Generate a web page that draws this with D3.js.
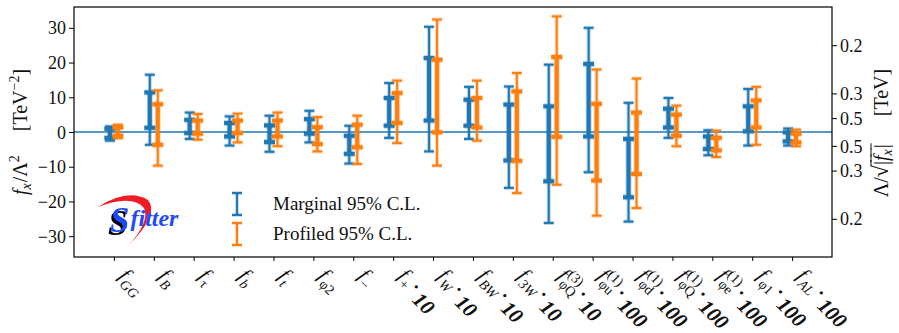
<!DOCTYPE html>
<html><head><meta charset="utf-8">
<script src="https://cdn.jsdelivr.net/npm/d3@7"></script>
<style>body{margin:0;background:#fff}svg text{font-family:"Liberation Serif","DejaVu Serif",serif;fill:#111}</style>
</head><body><svg id="c" width="899" height="333"></svg>
<script>
// ---------- data ----------
const xSub = ["GG","B","τ","b","t","φ2","−","+","W","BW","3W","φQ","φu","φd","φQ","φe","φ1","AL"];
const xSup = ["","","","","","","","","","","","(3)","(1)","(1)","(1)","(1)","",""];
const xFactor = ["","","","","","","","10","10","10","10","10","100","100","100","100","100","100"];

const marg95Lo = [-2.5,-3.7,-2.0,-3.9,-5.7,-3.0,-9.1,-1.7,-5.6,-2.0,-16.1,-26.2,-11.6,-25.8,-1.7,-6.7,-3.9,-3.9];
const marg95Hi = [1.6,16.5,5.6,4.5,4.7,6.1,1.8,14.1,30.3,13.0,13.1,19.4,30.0,8.4,9.8,0.5,12.4,1.0];
const marg68Lo = [-1.7,1.2,-0.3,-1.3,-2.9,-0.5,-6.3,1.8,3.3,1.8,-8.2,-14.2,-1.3,-18.8,1.3,-4.9,0.2,-2.7];
const marg68Hi = [0.9,11.4,3.5,2.6,1.9,3.7,-1.1,9.8,21.3,9.3,7.9,7.4,19.6,-2.0,6.7,-1.3,7.4,-0.1];

const prof95Lo = [-1.8,-9.7,-2.2,-3.0,-4.1,-5.6,-9.2,-3.2,-9.7,-2.5,-17.6,-15.2,-24.1,-21.9,-4.1,-7.2,-3.7,-4.1];
const prof95Hi = [2.1,12.0,5.2,5.3,5.6,4.3,4.7,14.8,32.4,14.8,17.0,33.3,18.0,15.4,7.6,0.4,13.0,0.7];
const prof68Lo = [-1.1,-3.7,-0.5,-0.3,-1.3,-3.5,-4.4,2.6,-0.1,1.3,-8.3,-1.4,-14.0,-12.1,-1.1,-5.3,1.3,-3.0];
const prof68Hi = [1.3,8.0,3.3,3.3,3.3,1.4,2.1,11.2,20.8,9.8,11.7,21.6,8.1,5.6,5.0,-1.7,9.1,-0.5];

const leftTicks = [-30,-20,-10,0,10,20,30];
const rightTickVals = [25, 100/9, 4, -4, -100/9, -25];
const rightTickLabels = ["0.2","0.3","0.5","0.5","0.3","0.2"];
const legendLabels = ["Marginal 95% C.L.","Profiled 95% C.L."];

const BLUE = "#1f77b4", ORANGE = "#ff7f0e";

// ---------- scales ----------
const svg = d3.select('#c');
const L = 74, R = 832, T = 7, B = 257;
const x = d3.scaleLinear().domain([-1,18]).range([L,R]);
const y = d3.scaleLinear().domain([-36,36]).range([B,T]);

const defs = svg.append('defs');
const flt = defs.append('filter').attr('id','shadow').attr('x','-30%').attr('y','-20%').attr('width','160%').attr('height','150%');
flt.append('feDropShadow').attr('dx',-2).attr('dy',3).attr('stdDeviation',0.3).attr('flood-color','#000').attr('flood-opacity',1);

// zero line
svg.append('line').attr('x1',L).attr('x2',R).attr('y1',y(0)).attr('y2',y(0))
  .attr('stroke',BLUE).attr('stroke-width',1.3);

// ---------- error bars ----------
function bar(g, cx, lo, hi, w, capW, color){
  const parts = [[cx,y(lo),cx,y(hi)],[cx-capW/2,y(lo),cx+capW/2,y(lo)],[cx-capW/2,y(hi),cx+capW/2,y(hi)]];
  parts.forEach(p=>{
    g.append('line').attr('x1',p[0]).attr('y1',p[1]).attr('x2',p[2]).attr('y2',p[3])
      .attr('stroke',color).attr('stroke-opacity',0.3).attr('stroke-width',w+2);
  });
  parts.forEach(p=>{
    g.append('line').attr('x1',p[0]).attr('y1',p[1]).attr('x2',p[2]).attr('y2',p[3])
      .attr('stroke',color).attr('stroke-width',w);
  });
}
const gb = svg.append('g');
const off = 0.1;
d3.range(xSub.length).forEach(i=>{
  bar(gb, x(i-off), marg95Lo[i], marg95Hi[i], 2, 10, BLUE);
  bar(gb, x(i-off), marg68Lo[i], marg68Hi[i], 4, 11, BLUE);
});
d3.range(xSub.length).forEach(i=>{
  bar(gb, x(i+off), prof95Lo[i], prof95Hi[i], 2, 10, ORANGE);
  bar(gb, x(i+off), prof68Lo[i], prof68Hi[i], 4, 11, ORANGE);
});

// ---------- frame & axes ----------
svg.append('rect').attr('x',L).attr('y',T).attr('width',R-L).attr('height',B-T)
  .attr('fill','none').attr('stroke','#000').attr('stroke-width',1.2);

const ax = svg.append('g').attr('transform',`translate(${L},0)`)
  .call(d3.axisLeft(y).tickValues(leftTicks).tickSize(5).tickPadding(3)
    .tickFormat(d=>d<0?'−'+Math.abs(d):String(d)));
ax.select('.domain').remove();
ax.selectAll('text').attr('font-size',18).attr('font-family',null).attr('fill','#222').attr('dy','0.34em');
ax.selectAll('line').attr('stroke','#000');

const axr = svg.append('g').attr('transform',`translate(${R},0)`)
  .call(d3.axisRight(y).tickValues(rightTickVals).tickSize(5).tickPadding(3)
    .tickFormat((d,i)=>rightTickLabels[i]));
axr.select('.domain').remove();
axr.selectAll('text').attr('font-size',18).attr('font-family',null).attr('fill','#222').attr('dy','0.34em');
axr.selectAll('line').attr('stroke','#000');

const axb = svg.append('g').attr('transform',`translate(0,${B})`)
  .call(d3.axisBottom(x).tickValues(d3.range(xSub.length)).tickSize(4).tickFormat(''));
axb.select('.domain').remove();
axb.selectAll('line').attr('stroke','#000');

// ---------- x labels ----------
xSub.forEach((s,i)=>{
  const g = svg.append('g').attr('transform',`translate(${x(i)+4},277) rotate(45)`);
  let cx = 0;
  const f = g.append('text').attr('x',cx).attr('y',0).attr('font-size',21).attr('font-style','italic').text('f');
  cx += f.node().getComputedTextLength()+0.5;
  const sb = g.append('text').attr('x',cx).attr('y',5).attr('font-size',14)
    .attr('font-style', /^[A-Za-z0-9]+$/.test(s)?'italic':'normal').text(s);
  let w = sb.node().getComputedTextLength();
  if (xSup[i]) {
    const sp = g.append('text').attr('x',cx).attr('y',-8).attr('font-size',14).text(xSup[i]);
    w = Math.max(w, sp.node().getComputedTextLength());
  }
  cx += w + 3;
  if (xFactor[i]) {
    const d = g.append('text').attr('x',cx).attr('y',0).attr('font-size',20).attr('font-weight','bold').text('·');
    cx += d.node().getComputedTextLength()+3;
    g.append('text').attr('x',cx).attr('y',7).attr('font-size',21).attr('font-weight','bold').attr('font-style','italic').text(xFactor[i]);
  }
});

// ---------- axis titles ----------
function composed(g, pieces){
  let cx = 0;
  pieces.forEach(p=>{
    if (p.gap){ cx += p.gap; return; }
    const t = g.append('text').attr('x',cx).attr('y',p.dy||0).attr('font-size',p.fs||20)
      .attr('font-style',p.it?'italic':'normal').text(p.t);
    const w = t.node().getComputedTextLength();
    if (p.over) g.append('line').attr('x1',cx-1).attr('x2',cx+w+1).attr('y1',-17).attr('y2',-17).attr('stroke','#111').attr('stroke-width',1);
    cx += w + (p.sp||0);
  });
  return cx;
}
// left
{
  const g = svg.append('g');
  const inner = g.append('g');
  const w = composed(inner, [
    {t:'f',it:true},{t:'x',it:true,fs:14,dy:4,sp:1},{t:'/Λ'},{t:'2',fs:14,dy:-8},
    {gap:24},
    {t:'[TeV'},{t:'−2',fs:14,dy:-8},{t:']'}
  ]);
  inner.attr('transform',`translate(${-w/2},0)`);
  g.attr('transform',`translate(27,132) rotate(-90)`);
}
// right
{
  const g = svg.append('g');
  const inner = g.append('g');
  const w = composed(inner, [
    {t:'Λ/'},{t:'√',fs:22},{t:'|',over:true},{t:'f',it:true,over:true},{t:'x',it:true,fs:14,dy:4,over:true,sp:1},{t:'|',over:true},
    {gap:28},
    {t:'[TeV]'}
  ]);
  inner.attr('transform',`translate(${-w/2},0)`);
  g.attr('transform',`translate(888,133) rotate(-90)`);
}

// ---------- legend ----------
[[BLUE,193,215],[ORANGE,223,245]].forEach((d,i)=>{
  const g = svg.append('g');
  const cx = 237;
  [[cx,d[1],cx,d[2]],[cx-5,d[1],cx+5,d[1]],[cx-5,d[2],cx+5,d[2]]].forEach(p=>{
    g.append('line').attr('x1',p[0]).attr('y1',p[1]).attr('x2',p[2]).attr('y2',p[3])
      .attr('stroke',d[0]).attr('stroke-width',2.5);
  });
  svg.append('text').attr('x',273).attr('y',(d[1]+d[2])/2+6).attr('font-size',19).attr('fill','#222').text(legendLabels[i]);
});

// ---------- logo ----------
{
  const g = svg.append('g');
  g.append('path').attr('d','M98,207 Q128,188 148,200 Q160,214 128,246 Q150,222 144,208 Q132,194 98,207 Z').attr('fill','#ee1c25');
  const t = g.append('text').attr('x',110).attr('y',232).attr('font-family','Liberation Sans, Arial, sans-serif')
    .attr('font-weight','bold').attr('font-style','italic').style('fill','#1f4cf5');
  t.append('tspan').attr('font-size',35).attr('filter','url(#shadow)').text('S');
  t.append('tspan').attr('font-size',24).attr('dy',-6).attr('dx',1).text('fitter');
}
</script></body></html>
